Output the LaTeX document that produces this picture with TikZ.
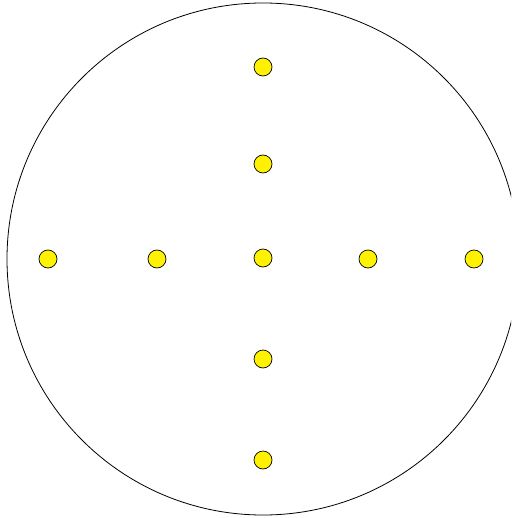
\documentclass[tikz,border=0pt]{standalone}
\usepackage{tikz}
\usetikzlibrary{positioning}

\begin{document}
\begin{tikzpicture}[
  x=1pt, y=-1pt,
  rim/.style={draw=black, line width=0.8pt},
  dot/.style={circle, draw=black, line width=0.7pt, fill=yellow, minimum size=18pt, inner sep=0pt}
]
\useasboundingbox (0,0) rectangle (511,518);
\begin{scope}
  \clip (0,0) rectangle (511,518);
  \draw[rim] (263,259) circle (256);
\end{scope}
% horizontal row
\foreach \name/\xx in {hA/48, hB/157, hD/368, hE/474}
  \node[dot] (\name) at (\xx,259) {};
% vertical column
\foreach \name/\yy in {vA/67, vB/164, vD/359, vE/460}
  \node[dot] (\name) at (263,\yy) {};
\node[dot] (mid) at (263,258) {};
\end{tikzpicture}
\end{document}
